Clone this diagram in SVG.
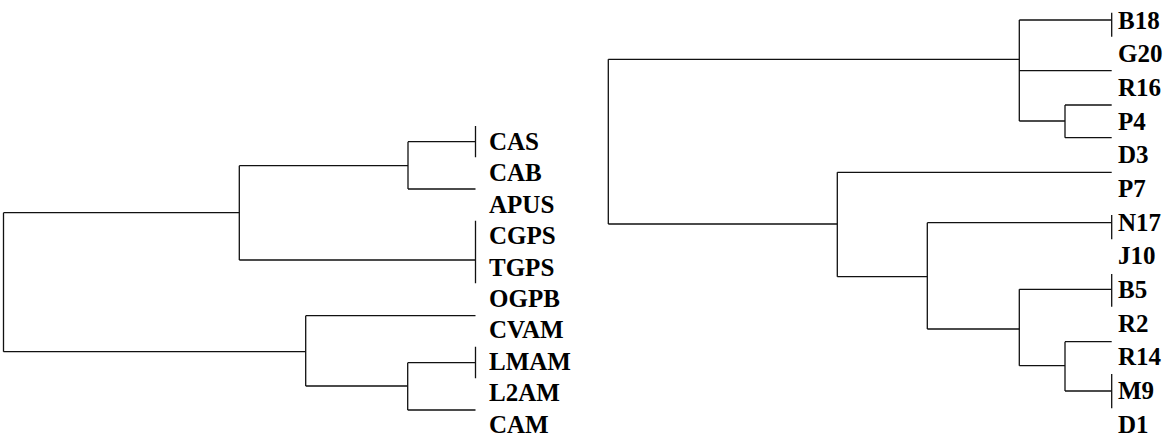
<svg xmlns="http://www.w3.org/2000/svg" width="1176" height="437" viewBox="0 0 1176 437">
<style>
.lbl{font-family:"Liberation Serif","Times New Roman",serif;font-weight:bold;font-size:25px;fill:#000}
.ln{stroke:#111;stroke-width:1.3;fill:none}
</style>
<rect width="1176" height="437" fill="#fff"/>
<g id="connectors">
<!-- left tree -->
<path class="ln" d="M3.5,212.7 V351.7 M3.5,212.7 H239.3 M3.5,351.7 H305.7"/>
<path class="ln" d="M239.3,165.7 V260 M239.3,165.7 H408 M239.3,260 H475.5"/>
<path class="ln" d="M408,141.7 V189 M408,141.7 H475.5 M408,189 H475.5"/>
<path class="ln" d="M305.7,315.7 V386 M305.7,315.7 H475.5 M305.7,386 H407.7"/>
<path class="ln" d="M407.7,362.7 V410 M407.7,362.7 H475.5 M407.7,410 H475.5"/>
<!-- right tree -->
<path class="ln" d="M608.3,59.3 V224 M608.3,59.3 H1019.3 M608.3,224 H837.3"/>
<path class="ln" d="M1019.3,20 V121 M1019.3,20 H1111.7 M1019.3,70.7 H1111.7 M1019.3,121 H1065"/>
<path class="ln" d="M1065,105 V137.7 M1065,105 H1111.7 M1065,137.7 H1111.7"/>
<path class="ln" d="M837.3,172.3 V276.7 M837.3,172.3 H1111.7 M837.3,276.7 H927.3"/>
<path class="ln" d="M927.3,222.7 V329 M927.3,222.7 H1111.7 M927.3,329 H1019.3"/>
<path class="ln" d="M1019.3,289.3 V365.7 M1019.3,289.3 H1111.7 M1019.3,365.7 H1065"/>
<path class="ln" d="M1065,341.7 V391 M1065,341.7 H1111.7 M1065,391 H1111.7"/>
<!-- leaf ticks -->
<path class="ln" d="M475.5,126 V157.3 M475.5,220.7 V283.3 M475.5,346.7 V378.3"/>
<path class="ln" d="M1111.7,12.7 V36.7 M1111.7,215 V239.3 M1111.7,274 V306.7 M1111.7,374 V408.3"/>
</g>
<g id="left-leaves">
<g id="n-CAS"><text class="lbl" x="489" y="150">CAS</text></g>
<g id="n-CAB"><text class="lbl" x="489" y="181">CAB</text></g>
<g id="n-APUS"><text class="lbl" x="489" y="212.5">APUS</text></g>
<g id="n-CGPS"><text class="lbl" x="489" y="244">CGPS</text></g>
<g id="n-TGPS"><text class="lbl" x="489" y="275.5">TGPS</text></g>
<g id="n-OGPB"><text class="lbl" x="489" y="307">OGPB</text></g>
<g id="n-CVAM"><text class="lbl" x="489" y="338">CVAM</text></g>
<g id="n-LMAM"><text class="lbl" x="489" y="369.5">LMAM</text></g>
<g id="n-L2AM"><text class="lbl" x="489" y="401">L2AM</text></g>
<g id="n-CAM"><text class="lbl" x="489" y="432.5">CAM</text></g>
</g>
<g id="right-leaves">
<g id="n-B18"><text class="lbl" x="1118" y="28.5">B18</text></g>
<g id="n-G20"><text class="lbl" x="1118" y="62">G20</text></g>
<g id="n-R16"><text class="lbl" x="1118" y="96">R16</text></g>
<g id="n-P4"><text class="lbl" x="1118" y="129.5">P4</text></g>
<g id="n-D3"><text class="lbl" x="1118" y="163">D3</text></g>
<g id="n-P7"><text class="lbl" x="1118" y="197">P7</text></g>
<g id="n-N17"><text class="lbl" x="1118" y="230.5">N17</text></g>
<g id="n-J10"><text class="lbl" x="1118" y="264">J10</text></g>
<g id="n-B5"><text class="lbl" x="1118" y="298">B5</text></g>
<g id="n-R2"><text class="lbl" x="1118" y="331.5">R2</text></g>
<g id="n-R14"><text class="lbl" x="1118" y="365">R14</text></g>
<g id="n-M9"><text class="lbl" x="1118" y="399">M9</text></g>
<g id="n-D1"><text class="lbl" x="1118" y="432.5">D1</text></g>
</g>
</svg>
